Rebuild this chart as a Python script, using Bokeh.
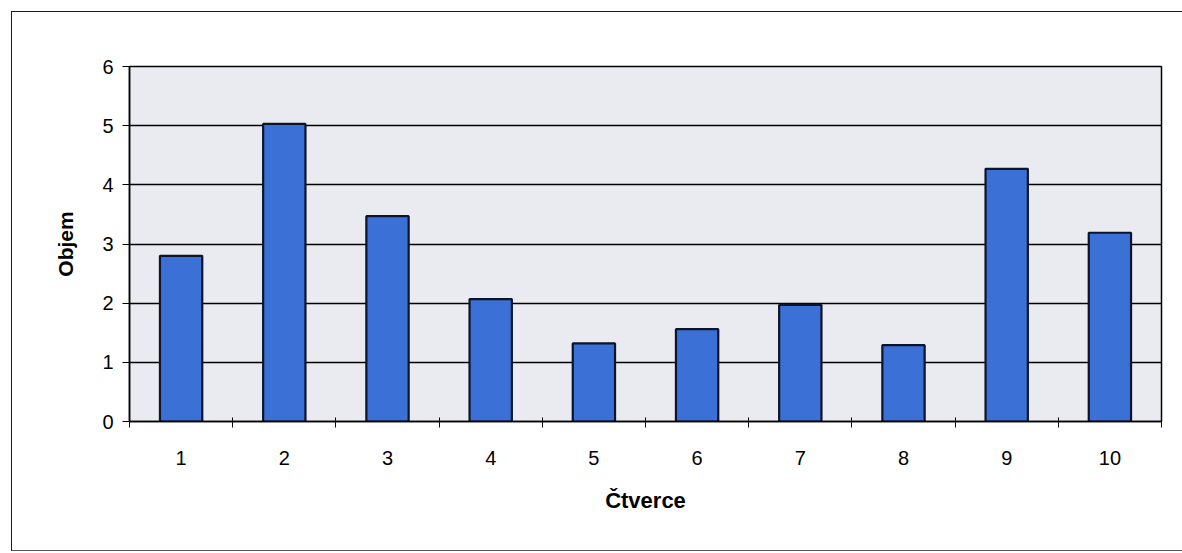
from bokeh.plotting import figure
from bokeh.models import FixedTicker, ColumnDataSource, Range1d
from bokeh.embed import file_html
from bokeh.resources import INLINE

# Volume measured for each square
squares = [1, 2, 3, 4, 5, 6, 7, 8, 9, 10]
volumes = [2.80, 5.03, 3.47, 2.07, 1.32, 1.56, 1.97, 1.29, 4.27, 3.19]
y_ticks = [0, 1, 2, 3, 4, 5, 6]

FONT = "Liberation Sans"

source = ColumnDataSource(data=dict(x=squares, top=volumes))

p = figure(
    width=1171, height=540,
    x_range=Range1d(0.5, 10.5), y_range=Range1d(0, 6),
    output_backend="svg", toolbar_location=None, tools="",
    min_border_left=117, min_border_right=22,
    min_border_top=54, min_border_bottom=131,
)
p.margin = (11, 0, 0, 11)
p.styles = {
    "border-left": "1px solid #1a1a1a",
    "border-top": "1px solid #1a1a1a",
    "border-bottom": "1px solid #555555",
}

p.background_fill_color = "#eaebf0"
p.border_fill_color = "white"
p.outline_line_color = "black"
p.outline_line_width = 1.5

p.vbar(x="x", top="top", width=0.41, source=source,
       fill_color="#3b70d6", line_color="#0b1428", line_width=2.2)

# Horizontal gridlines only
p.xgrid.grid_line_color = None
p.ygrid.grid_line_color = "black"
p.ygrid.grid_line_width = 1.3
p.ygrid.ticker = FixedTicker(ticks=y_ticks)

# Category axis: labels at centres, tick marks between categories
boundaries = [s - 0.5 for s in squares] + [squares[-1] + 0.5]
xa = p.xaxis[0]
xa.ticker = FixedTicker(ticks=squares, minor_ticks=boundaries)
xa.major_tick_line_color = None
xa.major_tick_out = 0
xa.minor_tick_line_color = "black"
xa.minor_tick_out = 6
xa.minor_tick_in = 4
xa.axis_line_color = "black"
xa.axis_line_width = 1.5
xa.major_label_text_font = FONT
xa.major_label_text_font_size = "20px"
xa.major_label_text_color = "black"
xa.major_label_standoff = 23
xa.axis_label = "Čtverce"
xa.axis_label_text_font = FONT
xa.axis_label_text_font_style = "bold"
xa.axis_label_text_font_size = "22px"
xa.axis_label_text_color = "black"
xa.axis_label_standoff = 20

ya = p.yaxis[0]
ya.ticker = FixedTicker(ticks=y_ticks)
ya.minor_tick_line_color = None
ya.major_tick_out = 7
ya.major_tick_in = 0
ya.major_tick_line_color = "black"
ya.axis_line_color = "black"
ya.axis_line_width = 1.5
ya.major_label_text_font = FONT
ya.major_label_text_font_size = "20px"
ya.major_label_text_color = "black"
ya.major_label_standoff = 9
ya.axis_label = "Objem"
ya.axis_label_text_font = FONT
ya.axis_label_text_font_style = "bold"
ya.axis_label_text_font_size = "21px"
ya.axis_label_text_color = "black"
ya.axis_label_standoff = 22

open("out.html", "w").write(file_html(p, INLINE))
